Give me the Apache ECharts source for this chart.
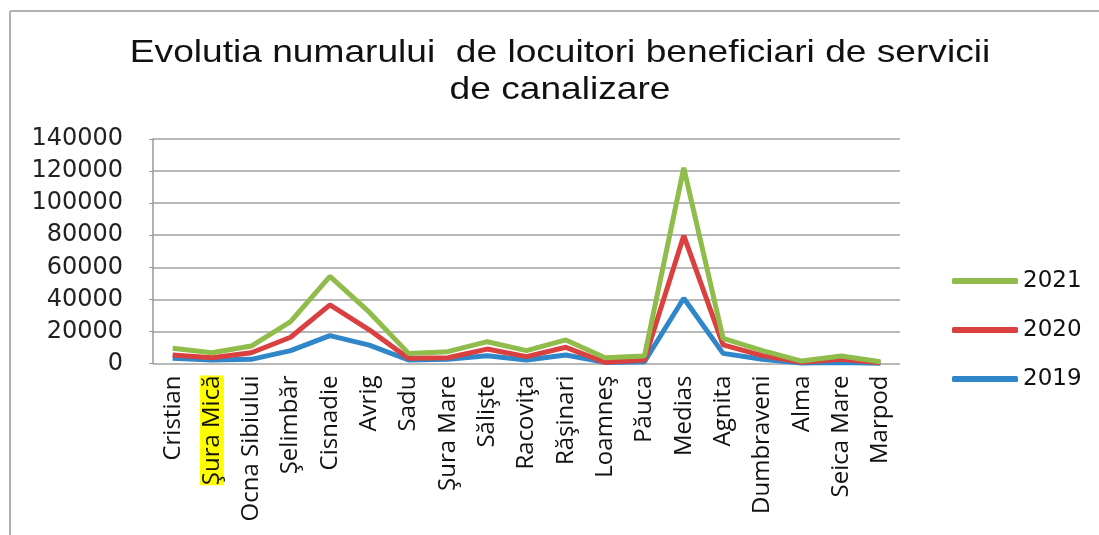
<!DOCTYPE html>
<html>
<head>
<meta charset="utf-8">
<script src="https://cdn.jsdelivr.net/npm/echarts@6/dist/echarts.min.js"></script>
<style>
html,body{margin:0;padding:0;background:#fff;}
#chart{width:1099px;height:535px;}
</style>
</head>
<body>
<div id="chart"></div>
<script>
const categories = ['Cristian','Şura Mică','Ocna Sibiului','Şelimbăr','Cisnadie','Avrig','Sadu','Şura Mare','Sălişte','Racoviţa','Răşinari','Loamneş','Păuca','Medias','Agnita','Dumbraveni','Alma','Seica Mare','Marpod'];
const v2019 = [3200,2200,2600,8000,17400,11500,2200,2600,4900,2200,5300,700,1100,40700,6300,2600,300,700,200];
const v2020 = [5300,3600,6700,16400,36600,21000,3200,3600,9000,4300,10100,750,2200,79700,11600,4900,700,2600,500];
const v2021 = [9500,6700,10900,26100,54300,32000,6300,7400,13600,8000,14700,3600,4700,122000,15700,8000,1500,4700,1100];
const yTicks = [0,20000,40000,60000,80000,100000,120000,140000];
const seriesNames = ['2019','2020','2021'];
const titleText = 'Evolutia numarului  de locuitori beneficiari de servicii\nde canalizare';
const colors = ['#2f86c8','#d9403f','#8fbc4b'];

const chart = echarts.init(document.getElementById('chart'));
const dataSets = [v2019, v2020, v2021];
chart.setOption({
  animation:false,
  backgroundColor:'#fff',
  graphic:[
    {type:'line',shape:{x1:10,y1:11,x2:1099,y2:11},style:{stroke:'#b0b0b0',lineWidth:2}},
    {type:'line',shape:{x1:10,y1:11,x2:10,y2:535},style:{stroke:'#b0b0b0',lineWidth:2}},
    {type:'text',x:560,y:35,scaleX:1.16,
     style:{text:titleText,fontFamily:'Liberation Sans',fontSize:32,fill:'#111',
            textAlign:'center',textVerticalAlign:'top',lineHeight:37}}
  ],
  legend:{
    orient:'vertical', left:947, top:264, itemGap:25, itemWidth:66, itemHeight:6,
    icon:'roundRect',
    data:['2021','2020','2019'],
    textStyle:{fontFamily:'DejaVu Sans',fontSize:23,color:'#111',lineHeight:24}
  },
  grid:{left:153,right:199,top:139,bottom:171.5,containLabel:false},
  xAxis:{
    type:'category', data:categories, boundaryGap:true,
    axisLine:{show:false}, axisTick:{show:false},
    axisLabel:{
      rotate:90, interval:0, margin:12,
      fontFamily:'Open Sans', fontSize:24, color:'#111',
      formatter:function(v){ return v==='Şura Mică' ? '{hl|'+v+'}' : v; },
      rich:{hl:{backgroundColor:'#ffff00',fontFamily:'Open Sans',fontSize:24,color:'#111'}}
    }
  },
  yAxis:{
    type:'value', min:yTicks[0], max:yTicks[yTicks.length-1], interval:20000,
    axisLine:{show:true,lineStyle:{color:'#999',width:1.5}},
    axisTick:{show:true,length:4,lineStyle:{color:'#999'}},
    splitLine:{lineStyle:{color:'#a0a0a0',width:1.5}},
    axisLabel:{fontFamily:'DejaVu Sans',fontSize:24,color:'#222',margin:30,
      formatter:function(v){ return String(v); }}
  },
  series: seriesNames.map((n,i)=>({
    name:n, type:'line', data:dataSets[i], symbol:'none', smooth:false,
    lineStyle:{width:5,color:colors[i]}, itemStyle:{color:colors[i]}, z:2+i
  }))
});
</script>
</body>
</html>
